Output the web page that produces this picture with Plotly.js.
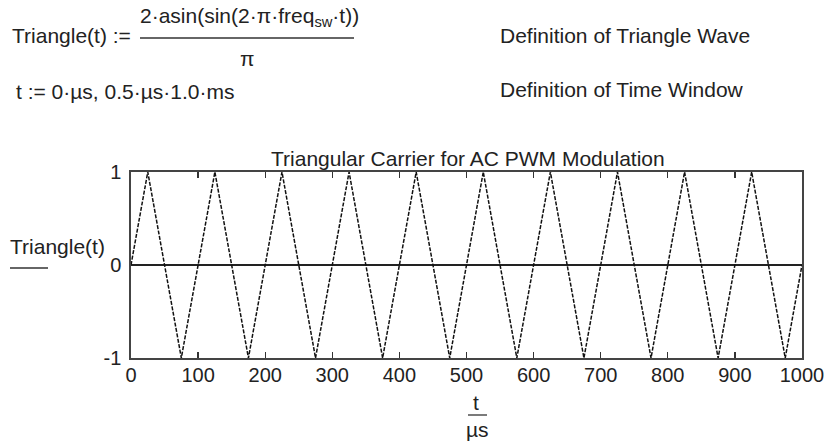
<!DOCTYPE html>
<html>
<head>
<meta charset="utf-8">
<script src="https://cdn.plot.ly/plotly-3.0.1.min.js"></script>
<style>
html,body{margin:0;padding:0;background:#fff;}
#chart{width:826px;height:442px;}
</style>
</head>
<body>
<div id="chart"></div>
<script>
// Triangle wave vertices (t in µs)
const tMicroseconds = [0, 25, 75, 125, 175, 225, 275, 325, 375, 425, 475, 525, 575, 625, 675, 725, 775, 825, 875, 925, 975, 1000];
const triangleValues = [0, 1, -1, 1, -1, 1, -1, 1, -1, 1, -1, 1, -1, 1, -1, 1, -1, 1, -1, 1, -1, 0];
const xTickValues = [0, 100, 200, 300, 400, 500, 600, 700, 800, 900, 1000];
const xTickLabels = ["0", "100", "200", "300", "400", "500", "600", "700", "800", "900", "1000"];
const yTickValues = [-1, 0, 1];
const yTickLabels = ["-1", "0", "1"];

const W = 826, H = 442;
const L = 131, R = 802, T = 172, B = 358;
const px = x => (x - L) / (R - L);
const py = y => (B - y) / (B - T);

const FONT = "Liberation Sans, Arial, Helvetica, sans-serif";
const ink = "#222";

function txt(text, x, y, size, xanchor) {
  return {text: text, x: px(x), y: py(y), xref: "paper", yref: "paper",
    xanchor: xanchor || "center", yanchor: "middle", showarrow: false,
    font: {family: FONT, size: size, color: ink}};
}
function hline(x0, x1, y) {
  return {type: "line", xref: "paper", yref: "paper", x0: px(x0), x1: px(x1), y0: py(y), y1: py(y),
    line: {color: "#333", width: 1.3}};
}

const trace = {
  x: tMicroseconds, y: triangleValues, type: "scatter", mode: "lines",
  line: {color: "#111", width: 1.5, dash: "4px,1.5px"}, hoverinfo: "skip"
};

const layout = {
  width: W, height: H,
  margin: {l: L, r: W - R, t: T, b: H - B, pad: 0},
  paper_bgcolor: "#fff", plot_bgcolor: "#fff",
  showlegend: false,
  xaxis: {range: [0, 1000], tickvals: xTickValues, ticktext: xTickLabels,
    ticks: "inside", ticklen: 6, tickcolor: "#333", tickwidth: 1.3,
    showline: true, mirror: "ticks", linecolor: "#444", linewidth: 1.6,
    showgrid: false, zeroline: false, ticklabeloverflow: "allow",
    ticklabelstandoff: -2,
    tickfont: {family: FONT, size: 20, color: ink}},
  yaxis: {range: [-1, 1], tickvals: yTickValues, ticktext: yTickLabels,
    ticks: "", ticklabelstandoff: 4,
    showline: true, mirror: true, linecolor: "#444", linewidth: 1.6,
    showgrid: false, zeroline: true, zerolinecolor: "#222", zerolinewidth: 1.3,
    tickfont: {family: FONT, size: 20, color: ink}},
  annotations: [
    txt("Triangle(t) :=", 10, 35, 21, "left"),
    txt("2·asin(sin(2·π·freq<sub>sw</sub>·t))", 249, 17, 21),
    txt("π", 247, 58, 21),
    txt("t := 0·µs, 0.5·µs·1.0·ms", 14, 92, 21, "left"),
    txt("Definition of Triangle Wave", 498, 35, 21, "left"),
    txt("Definition of Time Window", 498, 90, 21, "left"),
    txt("Triangular Carrier for AC PWM Modulation", 468, 158, 21),
    txt("Triangle(t)", 8, 246, 21, "left"),
    txt("t", 476, 402, 21),
    txt("µs", 477, 429, 21)
  ],
  shapes: [
    hline(140, 354, 38),
    hline(10, 48, 268),
    hline(468, 487, 415)
  ]
};

Plotly.newPlot("chart", [trace], layout, {displayModeBar: false, staticPlot: true});
</script>
</body>
</html>
